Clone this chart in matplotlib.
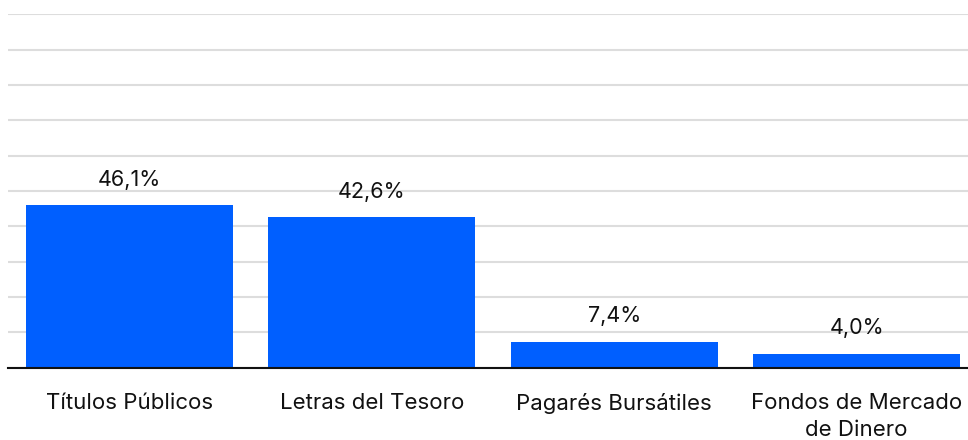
import matplotlib
matplotlib.use("Agg")
import matplotlib.pyplot as plt

categories = ["Títulos Públicos", "Letras del Tesoro", "Pagarés Bursátiles", "Fondos de Mercado\nde Dinero"]
values = [46.1, 42.6, 7.4, 4.0]
value_labels = ["46,1%", "42,6%", "7,4%", "4,0%"]
yticks = [0, 10, 20, 30, 40, 50, 60, 70, 80, 90, 100]

plt.rcParams['font.family'] = ['Inter', 'DejaVu Sans']

W, H = 968, 440
fig = plt.figure(figsize=(W / 100, H / 100), dpi=100)
left, right = 8, 978
top, bottom = 14.3, 367.7
ax = fig.add_axes([left / W, 1 - bottom / H, (right - left) / W, (bottom - top) / H])

x = list(range(len(categories)))
bars = ax.bar(x, values, width=0.854, color="#005FFF", zorder=3)
ax.set_xlim(-0.5, len(categories) - 0.5)
ax.set_ylim(0, 100)
ax.set_yticks(yticks)
ax.yaxis.grid(True, color="#dddddd", linewidth=1.5, zorder=0)
ax.tick_params(axis='y', left=False, labelleft=False)
ax.tick_params(axis='x', bottom=False, pad=15, labelsize=16, colors="#111111")
ax.set_xticks(x)
ax.set_xticklabels(categories, linespacing=1.4)
for s in ["top", "right", "left"]:
    ax.spines[s].set_visible(False)
ax.spines["bottom"].set_color("#111111")
ax.spines["bottom"].set_linewidth(1.5)
ax.spines["bottom"].set_zorder(4)

for b, lab in zip(bars, value_labels):
    ax.annotate(lab, (b.get_x() + b.get_width() / 2, b.get_height()),
                xytext=(0, 11), textcoords="offset points",
                ha="center", va="bottom", fontsize=15.5, color="#111111")

fig.savefig("out.png", dpi=100)
